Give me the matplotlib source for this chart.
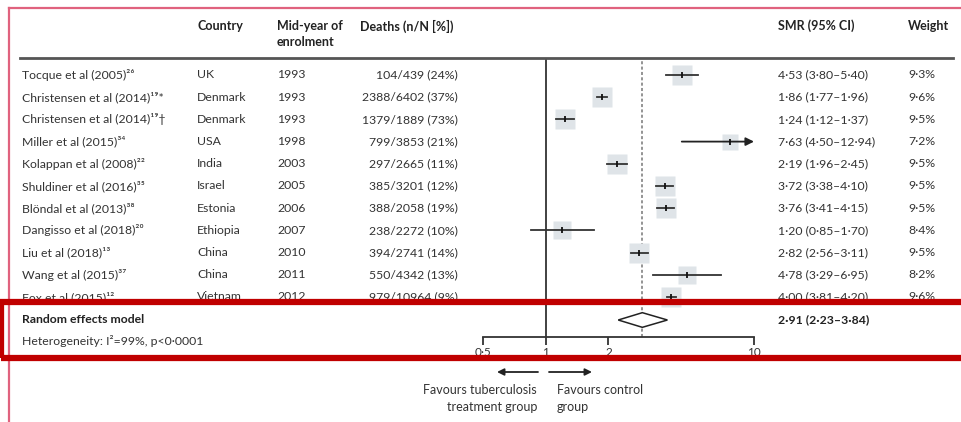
import matplotlib.pyplot as plt
from matplotlib.patches import Rectangle, Polygon, FancyArrowPatch
from matplotlib.lines import Line2D
from matplotlib.transforms import blended_transform_factory

plt.rcParams['font.family'] = ['Lato', 'DejaVu Sans']

# study data
studies = ['Tocque et al (2005)²⁶', 'Christensen et al (2014)¹⁹*', 'Christensen et al (2014)¹⁹†',
           'Miller et al (2015)³⁴', 'Kolappan et al (2008)²²', 'Shuldiner et al (2016)³⁵',
           'Blöndal et al (2013)³⁸', 'Dangisso et al (2018)²⁰', 'Liu et al (2018)¹³',
           'Wang et al (2015)³⁷', 'Fox et al (2015)¹²']
countries = ['UK', 'Denmark', 'Denmark', 'USA', 'India', 'Israel', 'Estonia', 'Ethiopia',
             'China', 'China', 'Vietnam']
years = [1993, 1993, 1993, 1998, 2003, 2005, 2006, 2007, 2010, 2011, 2012]
deaths = ['104/439 (24%)', '2388/6402 (37%)', '1379/1889 (73%)', '799/3853 (21%)',
          '297/2665 (11%)', '385/3201 (12%)', '388/2058 (19%)', '238/2272 (10%)',
          '394/2741 (14%)', '550/4342 (13%)', '979/10964 (9%)']
smr = [4.53, 1.86, 1.24, 7.63, 2.19, 3.72, 3.76, 1.20, 2.82, 4.78, 4.00]
lo = [3.80, 1.77, 1.12, 4.50, 1.96, 3.38, 3.41, 0.85, 2.56, 3.29, 3.81]
hi = [5.40, 1.96, 1.37, 12.94, 2.45, 4.10, 4.15, 1.70, 3.11, 6.95, 4.20]
weight = [9.3, 9.6, 9.5, 7.2, 9.5, 9.5, 9.5, 8.4, 9.5, 8.2, 9.6]

re_est, re_lo, re_hi = 2.91, 2.23, 3.84
ticks = [0.5, 1, 2, 10]
tick_labels = ['0·5', '1', '2', '10']

W, H = 961, 422


def fx(px):
    return px / W


def fy(py):
    return 1 - py / H


fig = plt.figure(figsize=(9.61, 4.22), dpi=100)
ax = fig.add_axes([fx(483), fy(337), fx(754) - fx(483), fy(58) - fy(337)])
ax.set_xscale('log')
ax.set_xlim(0.5, 10)
# row i sits at pixel 75 + 22.2*i
ax.set_ylim((337 - 75) / 22.2, (58 - 75) / 22.2)
for s in ['top', 'left', 'right']:
    ax.spines[s].set_visible(False)
ax.spines['bottom'].set_linewidth(1.3)
ax.spines['bottom'].set_color('#333333')
ax.set_yticks([])
ax.set_xticks(ticks)
ax.set_xticklabels(tick_labels, fontsize=8.5, color='#333333')
ax.xaxis.set_minor_locator(plt.NullLocator())
ax.tick_params(axis='x', direction='out', length=6, width=1.3, color='#333333', pad=1)
ax.patch.set_alpha(0)

ax.axvline(1, color='#333333', lw=1.3)
ax.axvline(re_est, color='#777777', lw=1.1, ls=(0, (2, 1.5)))

n = len(studies)
for i in range(n):
    ms = 14 * (weight[i] / 9.6) ** 0.5
    ax.plot(smr[i], i, marker='s', ms=ms, color='#dfe4e8', mec='none', zorder=2)
    if hi[i] > 10:
        ax.annotate('', xy=(10, i), xytext=(lo[i], i),
                    arrowprops=dict(arrowstyle='-|>', color='#222222', lw=1.3,
                                    mutation_scale=12, shrinkA=0, shrinkB=0),
                    zorder=3, annotation_clip=False)
    else:
        ax.plot([lo[i], hi[i]], [i, i], color='#333333', lw=1.3, zorder=3)
    ax.plot(smr[i], i, marker='|', ms=5, mew=1.3, color='#111111', zorder=4)

re_y = (320 - 75) / 22.2
dia = Polygon([(re_lo, re_y), (re_est, re_y - 0.33), (re_hi, re_y), (re_est, re_y + 0.33)],
              closed=True, fc='white', ec='#222222', lw=1.1, zorder=5)
ax.add_patch(dia)

# text columns
tr = blended_transform_factory(fig.transFigure, ax.transData)
fs = 8.8
tc = '#333333'
for i in range(n):
    ax.text(fx(22), i, studies[i], transform=tr, fontsize=fs, color=tc, va='center', clip_on=False)
    ax.text(fx(197), i, countries[i], transform=tr, fontsize=fs, color=tc, va='center', clip_on=False)
    ax.text(fx(277), i, str(years[i]), transform=tr, fontsize=fs, color=tc, va='center', clip_on=False)
    ax.text(fx(458), i, deaths[i], transform=tr, fontsize=fs, color=tc, va='center', ha='right',
            clip_on=False)
    ci = f'{smr[i]:.2f} ({lo[i]:.2f}–{hi[i]:.2f})'.replace('.', '·')
    ax.text(fx(778), i, ci, transform=tr, fontsize=fs, color=tc, va='center', clip_on=False)
    ax.text(fx(908), i, f'{weight[i]:.1f}%'.replace('.', '·'), transform=tr, fontsize=fs,
            color=tc, va='center', clip_on=False)

ax.text(fx(22), re_y, 'Random effects model', transform=tr, fontsize=fs, color='#222222',
        weight='bold', va='center', clip_on=False)
re_txt = f'{re_est:.2f} ({re_lo:.2f}–{re_hi:.2f})'.replace('.', '·')
ax.text(fx(778), re_y, re_txt, transform=tr, fontsize=fs, color='#222222', weight='bold',
        va='center', clip_on=False)
fig.text(fx(22), fy(341), 'Heterogeneity: I²=99%, p<0·0001', fontsize=fs, color=tc, va='center')

# headers
hk = dict(fontsize=9, color='#222222', weight='bold', va='center')
fig.text(fx(197), fy(26), 'Country', **hk)
fig.text(fx(277), fy(26), 'Mid-year of', **hk)
fig.text(fx(277), fy(42), 'enrolment', **hk)
fig.text(fx(360), fy(26), 'Deaths (n/N [%])', **hk)
fig.text(fx(778), fy(26), 'SMR (95% CI)', **hk)
fig.text(fx(908), fy(26), 'Weight', **hk)
fig.add_artist(Line2D([fx(20), fx(953)], [fy(58), fy(58)], color='#555555', lw=2))

# favours arrows and text
ak = dict(arrowstyle='-|>', color='#222222', lw=1.3, mutation_scale=10, shrinkA=0, shrinkB=0)
fig.add_artist(FancyArrowPatch((fx(538), fy(372)), (fx(497), fy(372)),
                               transform=fig.transFigure, **ak))
fig.add_artist(FancyArrowPatch((fx(549), fy(372)), (fx(592), fy(372)),
                               transform=fig.transFigure, **ak))
fk = dict(fontsize=9, color=tc, va='center')
fig.text(fx(537), fy(390), 'Favours tuberculosis', ha='right', **fk)
fig.text(fx(537), fy(407), 'treatment group', ha='right', **fk)
fig.text(fx(557), fy(390), 'Favours control', ha='left', **fk)
fig.text(fx(557), fy(407), 'group', ha='left', **fk)

# pink page frame
fig.add_artist(Line2D([fx(9), fx(961)], [fy(8), fy(8)], color='#e0627e', lw=1.6))
fig.add_artist(Line2D([fx(9), fx(9)], [fy(8), fy(422)], color='#e0627e', lw=1.6))

# red highlight box
fig.add_artist(Rectangle((fx(1), fy(358)), fx(980) - fx(1), fy(302) - fy(358),
                         transform=fig.transFigure, fill=False, ec='#c00000', lw=4.5,
                         zorder=20, clip_on=False))

fig.savefig('out.png', dpi=100)
